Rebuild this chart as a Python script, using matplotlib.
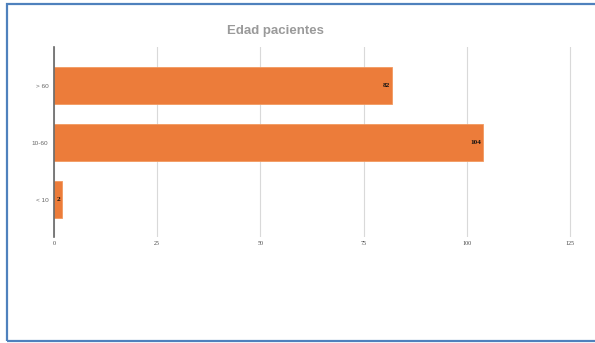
import matplotlib
matplotlib.use("Agg")
import matplotlib.pyplot as plt
from matplotlib.patches import Rectangle

categories = ["< 10", "10-60", "> 60"]
values = [2, 104, 82]
x_ticks = [0, 25, 50, 75, 100, 125]

bar_color = "#EC7C3A"
grid_color = "#D9D9D9"

fig = plt.figure(figsize=(5.95, 3.43), dpi=100)
fig.patch.set_facecolor("white")

# frame around the chart (open on the right)
fig.patches.append(Rectangle((7 / 595, 2 / 343), 1.0, 337 / 343,
                             transform=fig.transFigure, fill=False,
                             edgecolor="#4F81BD", linewidth=1.6, zorder=0))

ax = fig.add_axes([54 / 595, 1 - 237 / 343, 520 / 595, 190 / 343])
ypos = list(range(len(categories)))
ax.barh(ypos, values, height=0.65, color=bar_color,
        edgecolor="#F29A60", linewidth=0.6, zorder=3)

for y, v in zip(ypos, values):
    ax.annotate(str(v), xy=(v, y), xytext=(-1.6, 0), textcoords="offset points",
                ha="right", va="center", fontsize=5.2, fontweight="bold",
                family="Liberation Serif", color="#111111", zorder=4)

ax.set_xlim(0, 126)
ax.set_ylim(-0.65, 2.675)
ax.set_xticks(x_ticks)
ax.set_xticklabels([str(t) for t in x_ticks], family="Liberation Serif",
                   fontsize=4.3, color="#444444")
ax.set_yticks(ypos)
ax.set_yticklabels(categories, family="Liberation Sans", fontsize=4.6,
                   color="#666666")
ax.tick_params(axis="both", length=0)
ax.tick_params(axis="y", pad=4)
ax.tick_params(axis="x", pad=3)

ax.grid(axis="x", color=grid_color, linewidth=0.8, zorder=0)
ax.set_axisbelow(True)
for side in ["top", "right", "bottom"]:
    ax.spines[side].set_visible(False)
ax.spines["left"].set_color("#666666")
ax.spines["left"].set_linewidth(1.2)
ax.spines["left"].set_zorder(5)

fig.text(275 / 595, 1 - 31 / 343, "Edad pacientes", ha="center", va="center",
         fontsize=9.5, fontweight="bold", family="Liberation Sans",
         color="#9A9A9A")

fig.savefig("out.png", dpi=100, facecolor="white")
